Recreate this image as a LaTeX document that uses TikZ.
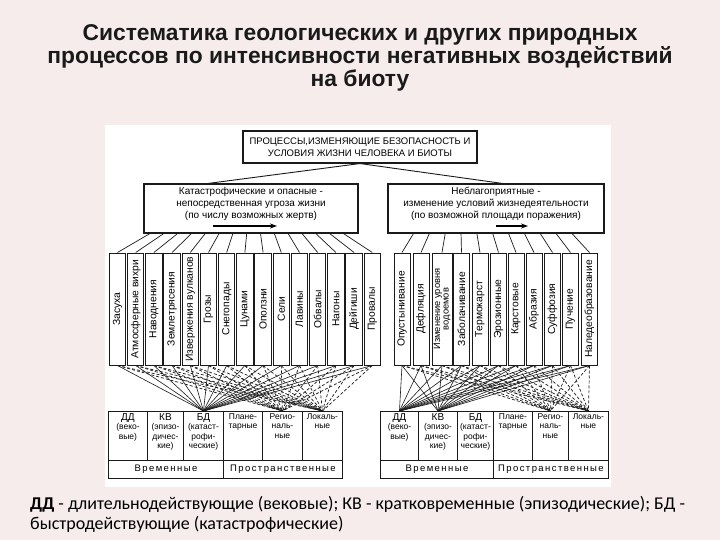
\documentclass[tikz,border=0pt]{standalone}
\usepackage{fontspec}
\setmainfont{Liberation Sans}
\newfontfamily\capfont{Carlito}
\usetikzlibrary{arrows.meta,calc}
\definecolor{bgpink}{HTML}{F6ECEC}
\definecolor{ink}{HTML}{1A1A1A}
\begin{document}
\begin{tikzpicture}[x=1pt,y=-1pt,
  bx/.style={draw=ink, line width=1.1pt, inner sep=0pt},
  vbox/.style={draw=ink, line width=1pt, rotate=90, minimum width=112, minimum height=16.5, inner sep=0pt, font=\fontsize{10.3}{10}\selectfont, align=center},
  cell/.style={draw=ink, line width=0.9pt, inner sep=0pt, anchor=north west},
  ctext/.style={anchor=north, inner sep=0pt, align=center, font=\fontsize{8.5}{9.5}\selectfont},
  spaced/.style={font=\fontsize{9.5}{10}\selectfont\addfontfeature{LetterSpace=15}},
  fan/.style={draw=ink, line width=0.7pt},
  dsh/.style={draw=ink, line width=0.7pt, dash pattern=on 3pt off 2pt},
  sol/.style={draw=ink, line width=0.6pt},
  arrowline/.style={draw=black, line width=1.6pt, -{Stealth[length=7pt,width=5pt]}}
]
\useasboundingbox (0,0) rectangle (720,540);
\fill[bgpink] (0,0) rectangle (720,540);
\fill[white] (105,125) rectangle (611,487);

% title
\node[font=\bfseries\fontsize{22.8}{23}\selectfont, text=ink, align=center] (title) at (360,58)
 {Систематика геологических и других природных\\процессов по интенсивности негативных воздействий\\на биоту};

% top box
\node[bx, minimum width=234, minimum height=32, align=center, font=\fontsize{9.5}{11.5}\selectfont] (t) at (360,147)
 {ПРОЦЕССЫ,ИЗМЕНЯЮЩИЕ БЕЗОПАСНОСТЬ И\\УСЛОВИЯ ЖИЗНИ ЧЕЛОВЕКА И БИОТЫ};

% middle boxes
\node[bx, minimum width=214, minimum height=49] (lb) at (251,208.5) {};
\node[align=center, font=\fontsize{10}{12}\selectfont, inner sep=0pt] (lbt) at (251,203.5)
 {Катастрофические и опасные -\\непосредственная угроза жизни\\(по числу возможных жертв)};
\coordinate (la1) at (213,226);
\coordinate (la2) at (277,226);
\path[arrowline] (la1) -- (la2);

\node[bx, minimum width=216, minimum height=49] (rb) at (496,208.5) {};
\node[align=center, font=\fontsize{10}{12}\selectfont, inner sep=0pt] (rbt) at (496,203.5)
 {Неблагоприятные -\\изменение условий жизнедеятельности\\(по возможной площади поражения)};
\coordinate (ra1) at (496,226);
\coordinate (ra2) at (528,226);
\path[arrowline] (ra1) -- (ra2);

\draw[fan, line width=0.9pt] (t.south) -- ($(lb.north west)!0.3!(lb.north east)$);
\draw[fan, line width=0.9pt] (t.south) -- ($(rb.north west)!0.53!(rb.north east)$);

% left vertical boxes
\foreach \i/\lab in {1/Засуха,2/Атмосферные вихри,3/Наводнения,4/Землетрясения,5/Извержения вулканов,6/Грозы,7/Снегопады,8/Цунами,9/Оползни,10/Сели,11/Лавины,12/Обвалы,13/Нагоны,14/Дейгиши,15/Провалы}{
  \node[vbox] (l\i) at ({117.5+18.2*(\i-1)},309) {\lab};
}
% right vertical boxes
\foreach \i/\xx/\lab in {1/402/Опустынивание,2/421/Дефляция,4/461.5/Заболачивание,5/480/Термокарст,6/498.5/Эрозионные,7/516/Карстовые,8/534/Абразия,9/552.5/Суффозия,10/570.5/Пучение,11/589.5/Наледеобразование}{
  \node[vbox, minimum height=16] (r\i) at (\xx,309) {\lab};
}
\node[vbox, minimum height=20, font=\fontsize{9.3}{8.5}\selectfont] (r3) at (442,309) {Изменение уровня\\водоемов};

% fans
\foreach \i in {1,...,15}{
  \pgfmathsetmacro\f{0.03+0.9*(\i-1)/14}
  \draw[fan] ($(lb.south west)!\f!(lb.south east)$) -- (l\i.east);
}
\foreach \i in {1,...,11}{
  \pgfmathsetmacro\f{0.12+0.73*(\i-1)/10}
  \draw[fan] ($(rb.south west)!\f!(rb.south east)$) -- (r\i.east);
}

% left table
\node[cell, minimum width=39, minimum height=49] (a1) at (108,411) {};
\node[cell, minimum width=36, minimum height=49] (a2) at (147,411) {};
\node[cell, minimum width=40, minimum height=49] (a3) at (183,411) {};
\node[cell, minimum width=39, minimum height=49] (a4) at (223,411) {};
\node[cell, minimum width=40, minimum height=49] (a5) at (262,411) {};
\node[cell, minimum width=40, minimum height=49] (a6) at (302,411) {};
\node[cell, minimum width=115, minimum height=18] (a7) at (108,460) {};
\node[cell, minimum width=119, minimum height=18] (a8) at (223,460) {};
\node[spaced] at (a7.center) {Временные};
\node[spaced] at (a8.center) {Пространственные};
\node[ctext] at ([yshift=-2pt]a1.north) {{\fontsize{10}{10}\selectfont ДД}\\(веко-\\вые)};
\node[ctext] at ([yshift=-2pt]a2.north) {{\fontsize{10}{10}\selectfont КВ}\\(эпизо-\\дичес-\\кие)};
\node[ctext] at ([yshift=-2pt]a3.north) {{\fontsize{10}{10}\selectfont БД}\\(катаст-\\рофи-\\ческие)};
\node[ctext] at ([yshift=-2pt]a4.north) {Плане-\\тарные};
\node[ctext] at ([yshift=-2pt]a5.north) {Регио-\\наль-\\ные};
\node[ctext] at ([yshift=-2pt]a6.north) {Локаль-\\ные};

% right table
\node[cell, minimum width=38, minimum height=49] (b1) at (380,411) {};
\node[cell, minimum width=39, minimum height=49] (b2) at (418,411) {};
\node[cell, minimum width=36, minimum height=49] (b3) at (457,411) {};
\node[cell, minimum width=39, minimum height=49] (b4) at (493,411) {};
\node[cell, minimum width=36, minimum height=49] (b5) at (532,411) {};
\node[cell, minimum width=40, minimum height=49] (b6) at (568,411) {};
\node[cell, minimum width=113, minimum height=18] (b7) at (380,460) {};
\node[cell, minimum width=115, minimum height=18] (b8) at (493,460) {};
\node[spaced] at (b7.center) {Временные};
\node[spaced] at (b8.center) {Пространственные};
\node[ctext] at ([yshift=-2pt]b1.north) {{\fontsize{10}{10}\selectfont ДД}\\(веко-\\вые)};
\node[ctext] at ([yshift=-2pt]b2.north) {{\fontsize{10}{10}\selectfont КВ}\\(эпизо-\\дичес-\\кие)};
\node[ctext] at ([yshift=-2pt]b3.north) {{\fontsize{10}{10}\selectfont БД}\\(катаст-\\рофи-\\ческие)};
\node[ctext] at ([yshift=-2pt]b4.north) {Плане-\\тарные};
\node[ctext] at ([yshift=-2pt]b5.north) {Регио-\\наль-\\ные};
\node[ctext] at ([yshift=-2pt]b6.north) {Локаль-\\ные};

% connections to tables
\foreach \i in {1,...,15}{
  \draw[sol] (l\i.west) -- (a3.north);
  \draw[dsh] (l\i.west) -- (a5.north);
  \draw[dsh] (l\i.west) -- (a6.north);
}
\foreach \i in {1,...,11}{
  \draw[sol] (r\i.west) -- (b1.north);
  \draw[sol] (r\i.west) -- (b2.north);
  \draw[dsh] (r\i.west) -- (b5.north);
  \draw[dsh] (r\i.west) -- (b6.north);
}

% caption
\node[font=\capfont\fontsize{18}{20}\selectfont, anchor=north west, align=left, inner sep=0pt, text=black] (cap) at (30,496)
 {\textbf{ДД} - длительнодействующие (вековые); КВ - кратковременные (эпизодические); БД -\\быстродействующие (катастрофические)};
\end{tikzpicture}
\end{document}
